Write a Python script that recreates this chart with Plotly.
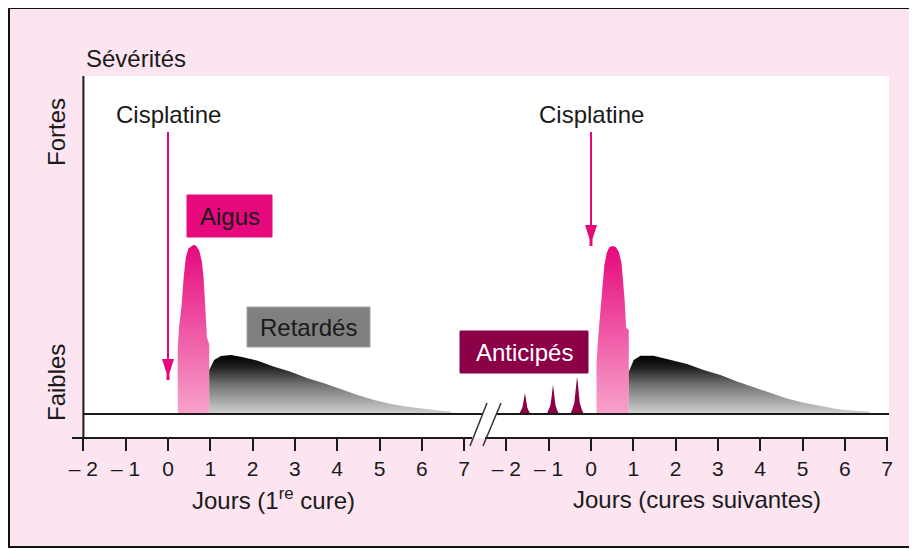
import plotly.graph_objects as go

# ---------------- data ----------------
# severity units: 0 = baseline ("Faibles" level); x in days relative to cisplatin
TICK_DAYS = [-2, -1, 0, 1, 2, 3, 4, 5, 6, 7]
TICK_TEXT = ["\u2013 2", "\u2013 1", "0", "1", "2", "3", "4", "5", "6", "7"]

# 1st cure
AIGUS1_DAY = [0.23, 0.23, 0.26, 0.32, 0.37, 0.42, 0.48, 0.55, 0.61, 0.67, 0.74, 0.80, 0.84, 0.88, 0.92, 0.975, 0.975]
AIGUS1_SEV = [0, 2.75, 3.6, 4.5, 5.7, 6.5, 6.9, 7.0, 7.05, 7.0, 6.8, 6.35, 5.7, 4.5, 3.2, 2.9, 0]
RETARDES1_DAY = [0.975, 0.975, 1.09, 1.25, 1.49, 1.72, 2.12, 2.51, 2.90, 3.30, 3.69, 4.09, 4.48, 4.87, 5.27, 5.66, 6.05, 6.45, 6.68, 6.72, 6.72]
RETARDES1_SEV = [0, 1.83, 2.25, 2.42, 2.46, 2.39, 2.22, 1.97, 1.76, 1.49, 1.28, 1.03, 0.79, 0.58, 0.42, 0.30, 0.21, 0.14, 0.10, 0.04, 0]

# following cures
AIGUS2_DAY = [0.13, 0.13, 0.16, 0.21, 0.265, 0.315, 0.37, 0.43, 0.51, 0.59, 0.66, 0.72, 0.755, 0.795, 0.83, 0.893, 0.893]
AIGUS2_SEV = [0, 2.1, 3.0, 4.1, 5.4, 6.2, 6.7, 6.95, 7.0, 6.95, 6.75, 6.3, 5.6, 4.75, 3.6, 3.5, 0]
RETARDES2_DAY = [0.893, 0.893, 1.01, 1.17, 1.48, 1.88, 2.27, 2.66, 3.06, 3.45, 3.84, 4.24, 4.63, 5.03, 5.42, 5.81, 6.21, 6.56, 6.60, 6.60]
RETARDES2_SEV = [0, 1.76, 2.25, 2.43, 2.43, 2.25, 2.08, 1.83, 1.62, 1.35, 1.11, 0.86, 0.65, 0.47, 0.33, 0.21, 0.14, 0.10, 0.04, 0]
ANTICIPES_A_DAY = [-1.70, -1.665, -1.625, -1.595, -1.577, -1.565, -1.553, -1.535, -1.505, -1.465, -1.43]
ANTICIPES_A_SEV = [0, 0.10, 0.26, 0.52, 0.78, 0.86, 0.78, 0.52, 0.26, 0.10, 0]
ANTICIPES_B_DAY = [-1.045, -1.005, -0.96, -0.93, -0.912, -0.90, -0.888, -0.87, -0.84, -0.795, -0.755]
ANTICIPES_B_SEV = [0, 0.14, 0.36, 0.73, 1.09, 1.21, 1.09, 0.73, 0.36, 0.14, 0]
ANTICIPES_C_DAY = [-0.49, -0.445, -0.395, -0.36, -0.342, -0.33, -0.318, -0.30, -0.265, -0.215, -0.17]
ANTICIPES_C_SEV = [0, 0.18, 0.46, 0.93, 1.40, 1.55, 1.40, 0.93, 0.46, 0.18, 0]

CISPLATINE_DAY = 0
CURE2_OFFSET = 10  # second section of the broken axis

# ---------------- layout helpers ----------------
PAGE_W, PAGE_H = 917, 549
BODY = 8                             # default page margin around the figure
W, H = PAGE_W - BODY, PAGE_H - BODY
L, R, T, B = 72, 889, 76, 438        # plot area in page pixels
DAY0_PX, PX_PER_DAY = 168.0, 42.3
BASE_PX, PX_PER_SEV = 414.0, 24.0

def dx(px):      # page pixel -> data x
    return (px - DAY0_PX) / PX_PER_DAY

def dy(py):      # page pixel -> data y
    return (BASE_PX - py) / PX_PER_SEV

def PXp(px):     # page pixel -> paper x
    return (px - L) / (R - L)

def PYp(py):     # page pixel -> paper y
    return (B - py) / (B - T)

FONT = "Liberation Sans, Arial, sans-serif"
MAGENTA = "#E6087D"
MAROON = "#8C0048"
INK = "#1a1a1a"
PINK_BG = "#FCE4F0"

PINK_SCALE = [[0, "#F7A3CB"], [1, "#E6087D"]]
GREY_SCALE = [[0, "#d2d2d2"], [0.5, "#727272"], [0.8, "#1e1e1e"], [1, "#000000"]]

fig = go.Figure()

def area(xs, ys, offset, scale=None, color=None):
    kw = dict(x=[v + offset for v in xs], y=ys, mode="lines", line=dict(width=0),
              fill="toself", hoverinfo="skip", showlegend=False)
    if scale is not None:
        kw["fillgradient"] = dict(type="vertical", colorscale=scale)
    else:
        kw["fillcolor"] = color
    fig.add_trace(go.Scatter(**kw))

area(AIGUS1_DAY, AIGUS1_SEV, 0, PINK_SCALE)
area(RETARDES1_DAY, RETARDES1_SEV, 0, GREY_SCALE)
area(AIGUS2_DAY, AIGUS2_SEV, CURE2_OFFSET, PINK_SCALE)
area(RETARDES2_DAY, RETARDES2_SEV, CURE2_OFFSET, GREY_SCALE)
for xs, ys in [(ANTICIPES_A_DAY, ANTICIPES_A_SEV), (ANTICIPES_B_DAY, ANTICIPES_B_SEV),
               (ANTICIPES_C_DAY, ANTICIPES_C_SEV)]:
    area(xs, ys, CURE2_OFFSET, color=MAROON)

# y axis line sits on the first tick (day -2)
ypx = DAY0_PX + TICK_DAYS[0] * PX_PER_DAY

shapes = []
# outer pink frame and white plotting panel
shapes.append(dict(type="rect", xref="paper", yref="paper", x0=PXp(9), x1=PXp(940),
                   y0=PYp(547), y1=PYp(8), fillcolor=PINK_BG, line=dict(color="#111", width=2),
                   layer="below"))
shapes.append(dict(type="rect", xref="paper", yref="paper", x0=PXp(ypx), x1=PXp(889),
                   y0=PYp(438), y1=PYp(76), fillcolor="white", line=dict(width=0), layer="below"))

def pline(x0, y0, x1, y1, w=2, color=INK):
    shapes.append(dict(type="line", xref="paper", yref="paper", x0=PXp(x0), y0=PYp(y0),
                       x1=PXp(x1), y1=PYp(y1), line=dict(color=color, width=w)))

pline(ypx, 76, ypx, 438)
# baseline with break
pline(ypx, 414, 482, 414)
pline(497, 414, 889, 414)
# tick axis with break
pline(72, 438, 472, 438)
pline(485, 438, 888, 438)
# break slashes
pline(487, 403, 470, 446, w=1.5, color="#333")
pline(501, 403, 483, 446, w=1.5, color="#333")

# cisplatin arrows (shaft + head) in data coordinates
def arrow(xd, y_start_px, y_tip_px):
    head = 21
    shapes.append(dict(type="line", xref="x", yref="y", x0=xd, x1=xd,
                       y0=dy(y_start_px), y1=dy(y_tip_px - head + 2),
                       line=dict(color=MAGENTA, width=2)))
    hw = 6 / PX_PER_DAY
    tw = 1.5 / PX_PER_DAY
    yt = dy(y_tip_px - head)
    ym = dy(y_tip_px - 7)
    yb = dy(y_tip_px)
    shapes.append(dict(type="path", xref="x", yref="y",
                       path=f"M{xd-hw},{yt} L{xd+hw},{yt} L{xd+tw},{ym} L{xd+tw},{yb} L{xd-tw},{yb} L{xd-tw},{ym} Z",
                       fillcolor=MAGENTA, line=dict(width=0)))

arrow(CISPLATINE_DAY, 132, 380)
arrow(CISPLATINE_DAY + CURE2_OFFSET, 132, 246)

# label boxes
def box(px0, px1, py0, py1, fill, line=None):
    shapes.append(dict(type="rect", xref="x", yref="y", x0=dx(px0), x1=dx(px1),
                       y0=dy(py1), y1=dy(py0), fillcolor=fill,
                       line=dict(color=line or fill, width=1)))

box(187, 272, 195, 237, MAGENTA)
box(247, 370, 307, 347, "#808080", "#a0a0a0")
box(460, 588, 331, 373, MAROON)

annotations = []

def text(t, x, y, xref="x", yref="y", size=24, color=INK, xanchor="center", angle=0):
    annotations.append(dict(text=t, x=x, y=y, xref=xref, yref=yref, showarrow=False,
                            xanchor=xanchor, yanchor="middle", textangle=angle,
                            font=dict(family=FONT, size=size, color=color)))

text("Cisplatine", CISPLATINE_DAY, dy(114))
text("Cisplatine", CISPLATINE_DAY + CURE2_OFFSET, dy(114))
text("Aigus", dx(229.5), dy(216))
text("Retardés", dx(308.5), dy(327))
text("Anticipés", dx(524), dy(352), color="white")
text("Sévérités", PXp(84), PYp(59), xref="paper", yref="paper", xanchor="left")
text("Fortes", PXp(56), PYp(132), xref="paper", yref="paper", angle=-90)
text("Faibles", PXp(56), PYp(383), xref="paper", yref="paper", angle=-90)
text("Jours (1<sup>re</sup> cure)", 2.5, PYp(499), yref="paper")
text("Jours (cures suivantes)", 2.5 + CURE2_OFFSET, PYp(499), yref="paper")

tickvals = TICK_DAYS + [d + CURE2_OFFSET for d in TICK_DAYS]
ticktext = TICK_TEXT + TICK_TEXT

fig.update_layout(
    width=W, height=H,
    margin=dict(l=L - BODY, r=PAGE_W - R, t=T - BODY, b=PAGE_H - B, pad=0),
    paper_bgcolor="white",
    plot_bgcolor="rgba(0,0,0,0)",
    showlegend=False,
    shapes=shapes,
    annotations=annotations,
    xaxis=dict(range=[dx(L), dx(R)], tickmode="array", tickvals=tickvals, ticktext=ticktext,
               ticks="outside", ticklen=12, tickwidth=2, tickcolor=INK,
               showgrid=False, zeroline=False, showline=False, fixedrange=True,
               tickfont=dict(family=FONT, size=21, color=INK)),
    yaxis=dict(range=[dy(B), dy(T)], visible=False, showgrid=False, zeroline=False,
               fixedrange=True),
)

fig.write_html("out.html")
